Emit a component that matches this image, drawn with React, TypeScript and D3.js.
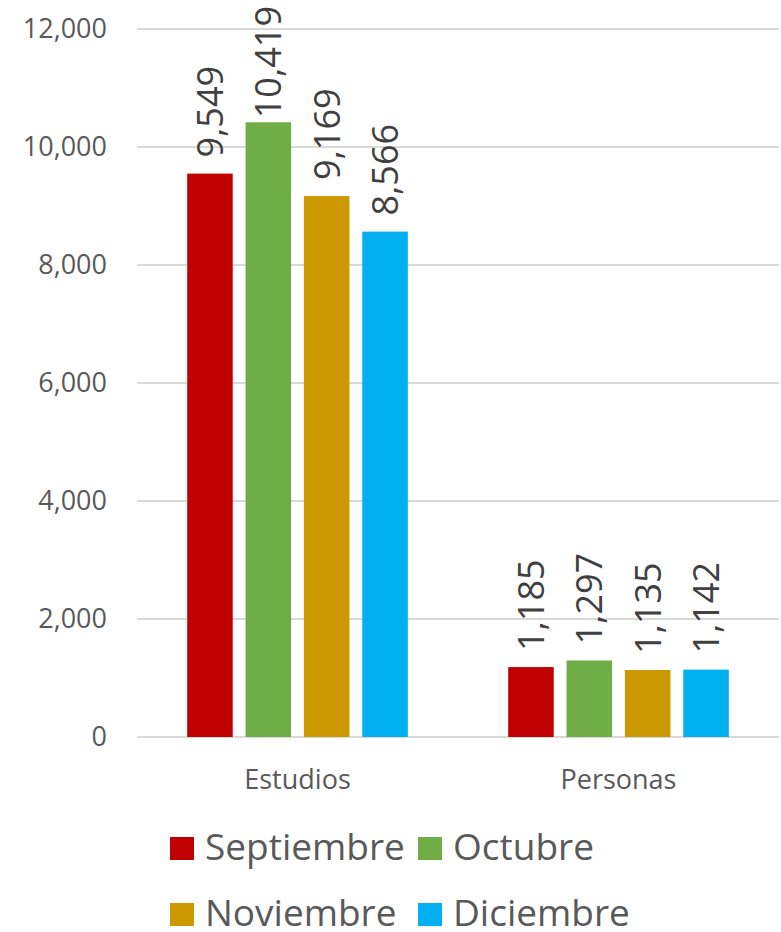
// App.tsx
import React, { useEffect, useRef } from 'react';
import * as d3 from 'd3';

const categories = ['Estudios', 'Personas'];
const months = ['Septiembre', 'Octubre', 'Noviembre', 'Diciembre'];
const septiembre = [9549, 1185];
const octubre = [10419, 1297];
const noviembre = [9169, 1135];
const diciembre = [8566, 1142];
const colors = ['#C00000', '#70AD47', '#CC9900', '#00B0F0'];
const yTicks = [0, 2000, 4000, 6000, 8000, 10000, 12000];

const App = () => {
  const svgRef = useRef<SVGSVGElement>(null);

  useEffect(() => {
    const width = 781;
    const height = 932;
    const series = [septiembre, octubre, noviembre, diciembre];
    const font = '"Open Sans", "Noto Sans", sans-serif';
    const textColor = '#595959';

    const svg = d3.select(svgRef.current);
    svg.selectAll('*').remove();
    svg.attr('width', width).attr('height', height);

    // echelles
    const x0 = d3.scaleBand().domain(categories).range([137, 779]).padding(0);
    const x1 = d3.scaleBand()
      .domain(months)
      .range([0, x0.bandwidth()])
      .paddingInner(0.22)
      .paddingOuter(0.86);
    const y = d3.scaleLinear().domain([0, 12000]).range([737, 29]);

    // grille
    svg.append('g')
      .selectAll('line')
      .data(yTicks)
      .join('line')
      .attr('x1', 137)
      .attr('x2', 779)
      .attr('y1', d => y(d))
      .attr('y2', d => y(d))
      .attr('stroke', '#D9D9D9')
      .attr('stroke-width', 2);

    // axe Y
    svg.append('g')
      .selectAll('text')
      .data(yTicks)
      .join('text')
      .attr('x', 107)
      .attr('y', d => y(d))
      .attr('dy', '0.35em')
      .attr('text-anchor', 'end')
      .attr('font-family', font)
      .attr('font-size', 27)
      .attr('fill', textColor)
      .text(d => d3.format(',')(d));

    // axe X
    svg.append('g')
      .selectAll('text')
      .data(categories)
      .join('text')
      .attr('x', d => (x0(d) ?? 0) + x0.bandwidth() / 2)
      .attr('y', 789)
      .attr('text-anchor', 'middle')
      .attr('font-family', font)
      .attr('font-size', 27)
      .attr('fill', textColor)
      .text(d => d);

    // barres
    const groups = svg.append('g')
      .selectAll('g')
      .data(categories)
      .join('g')
      .attr('transform', d => `translate(${x0(d)},0)`);

    groups.selectAll('rect')
      .data((_, i) => months.map((m, k) => ({ m, k, v: series[k][i] })))
      .join('rect')
      .attr('x', d => x1(d.m) ?? 0)
      .attr('y', d => y(d.v))
      .attr('width', x1.bandwidth())
      .attr('height', d => y(0) - y(d.v))
      .attr('fill', d => colors[d.k]);

    // etiquettes (gardées dans la zone du graphique comme Excel)
    groups.selectAll('text')
      .data((_, i) => months.map((m, k) => ({ m, k, v: series[k][i] })))
      .join('text')
      .attr('dy', '0.36em')
      .attr('text-anchor', 'start')
      .attr('font-family', font)
      .attr('font-size', 36)
      .attr('fill', '#404040')
      .text(d => d3.format(',')(d.v))
      .attr('transform', function (d) {
        const len = (this as SVGTextElement).getComputedTextLength();
        const start = Math.max(y(d.v) - 16, 6 + len);
        return `translate(${(x1(d.m) ?? 0) + x1.bandwidth() / 2},${start}) rotate(-90)`;
      });

    // legende
    const legendPos = [
      { x: 170, y: 860 },
      { x: 418, y: 860 },
      { x: 170, y: 926 },
      { x: 418, y: 926 },
    ];
    const legend = svg.append('g')
      .selectAll('g')
      .data(months)
      .join('g')
      .attr('transform', (_, i) => `translate(${legendPos[i].x},${legendPos[i].y})`);

    legend.append('rect')
      .attr('x', 0)
      .attr('y', -23)
      .attr('width', 24)
      .attr('height', 23)
      .attr('fill', (_, i) => colors[i]);

    legend.append('text')
      .attr('x', 35)
      .attr('y', 0)
      .attr('font-family', font)
      .attr('font-size', 37)
      .attr('fill', textColor)
      .text(d => d);
  }, []);

  return (
    <svg ref={svgRef} style={{ position: 'absolute', left: 0, top: 0 }}></svg>
  );
};

export default App;
